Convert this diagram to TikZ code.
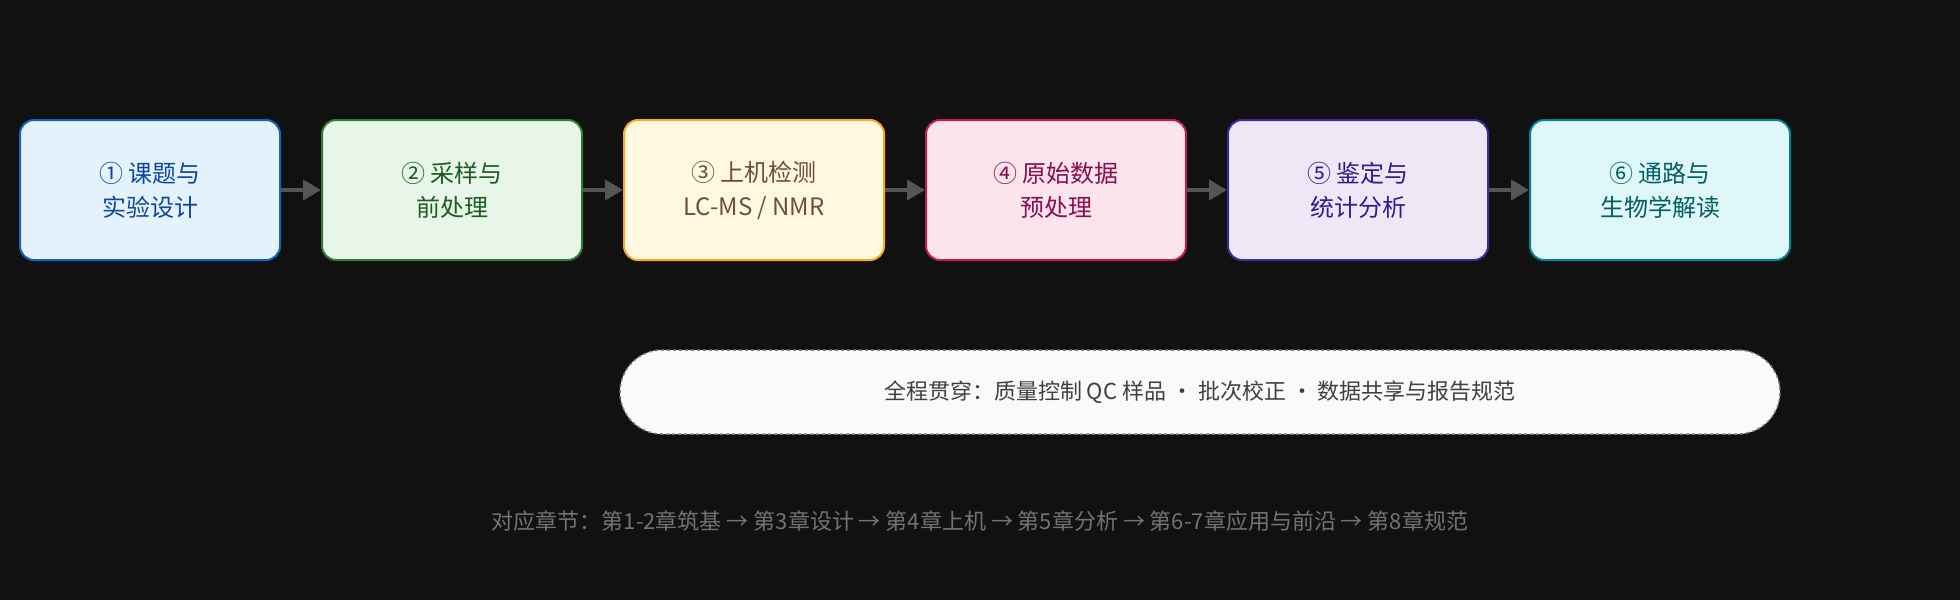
\documentclass[tikz,border=0pt]{standalone}
\usepackage{fontspec}
\setmainfont{Noto Sans CJK SC}
\usetikzlibrary{positioning, arrows.meta}

\definecolor{bgc}{HTML}{111111}
\definecolor{arr}{HTML}{555555}
\definecolor{fa}{HTML}{E3F2FD}\definecolor{da}{HTML}{1565C0}\definecolor{ta}{HTML}{0D47A1}
\definecolor{fb}{HTML}{E8F5E9}\definecolor{db}{HTML}{2E7D32}\definecolor{tb}{HTML}{1B5E20}
\definecolor{fc}{HTML}{FFF8E1}\definecolor{dc}{HTML}{F9A825}\definecolor{tc}{HTML}{6D4C41}
\definecolor{fd}{HTML}{FCE4EC}\definecolor{dd}{HTML}{C2185B}\definecolor{td}{HTML}{880E4F}
\definecolor{fe}{HTML}{EDE7F6}\definecolor{de}{HTML}{4527A0}\definecolor{te}{HTML}{311B92}
\definecolor{ff}{HTML}{E0F7FA}\definecolor{dff}{HTML}{00838F}\definecolor{tf}{HTML}{006064}

\tikzset{
  stage/.style={draw, line width=2pt, rounded corners=14pt, minimum width=260pt,
    minimum height=140pt, align=center, font=\fontsize{24}{34}\selectfont},
  flow/.style={-{Triangle[length=18pt,width=20pt]}, arr, line width=4pt}
}

\begin{document}
\begin{tikzpicture}[x=1pt,y=-1pt]

% background
\fill[bgc] (0,0) rectangle (1960,600);
\useasboundingbox (0,0) rectangle (1960,600);

% stages
\node[stage, fill=fa, draw=da, text=ta] (s1) at (150,190) {① 课题与\\实验设计};
\node[stage, fill=fb, draw=db, text=tb, right=40pt of s1] (s2) {② 采样与\\前处理};
\node[stage, fill=fc, draw=dc, text=tc, right=40pt of s2] (s3) {③ 上机检测\\LC-MS / NMR};
\node[stage, fill=fd, draw=dd, text=td, right=40pt of s3] (s4) {④ 原始数据\\预处理};
\node[stage, fill=fe, draw=de, text=te, right=40pt of s4] (s5) {⑤ 鉴定与\\统计分析};
\node[stage, fill=ff, draw=dff, text=tf, right=40pt of s5] (s6) {⑥ 通路与\\生物学解读};

% arrows
\foreach \a/\b in {s1/s2,s2/s3,s3/s4,s4/s5,s5/s6}
\draw[flow] (\a) -- (\b);

% quality bar
\node[draw=gray, dashed, line width=1.5pt, fill=white!98!black, rounded corners=42pt,
  minimum width=1160pt, minimum height=84pt, font=\fontsize{22}{26}\selectfont,
  text=black!75] (qc) at (1200,392) {全程贯穿：质量控制 QC 样品 · 批次校正 · 数据共享与报告规范};

% chapters
\node[text=black!55, font=\fontsize{22}{26}\selectfont] (ch) at (980,521)
  {对应章节：第1-2章筑基 → 第3章设计 → 第4章上机 → 第5章分析 → 第6-7章应用与前沿 → 第8章规范};

\end{tikzpicture}
\end{document}
